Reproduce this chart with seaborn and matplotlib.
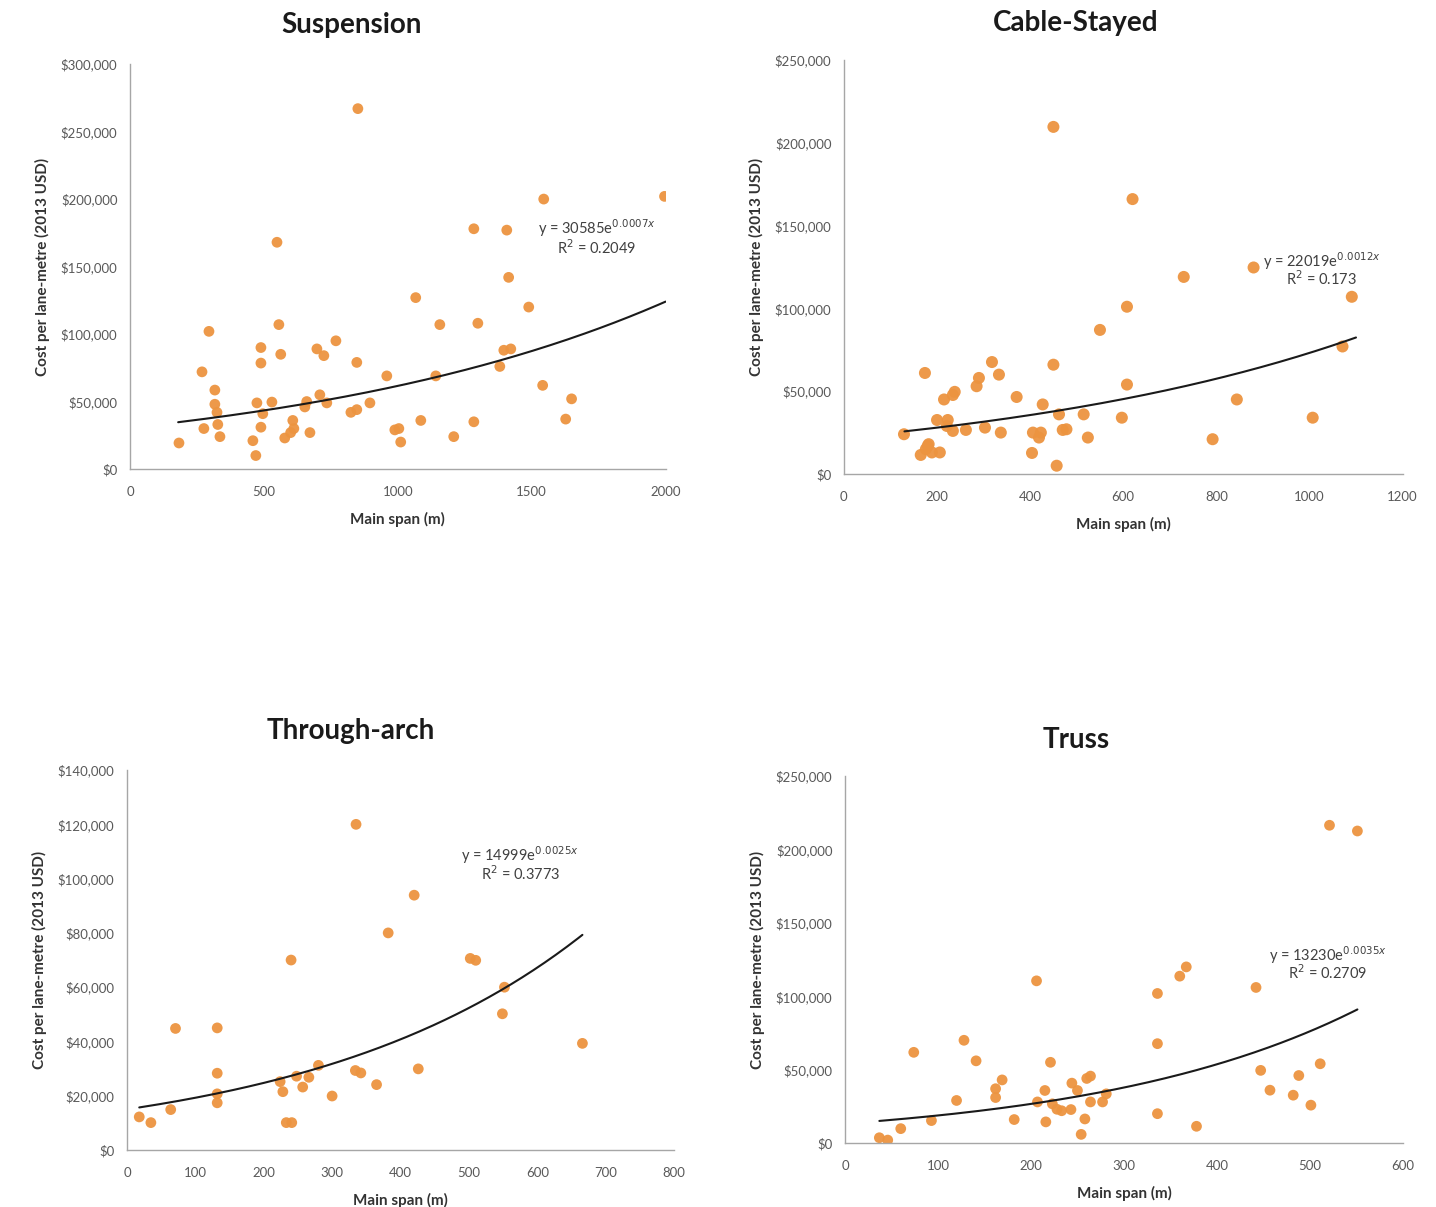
import numpy as np
import pandas as pd
import matplotlib
matplotlib.use('Agg')
import matplotlib.pyplot as plt
from matplotlib.ticker import FuncFormatter, MultipleLocator
import seaborn as sns

# Suspension bridges: main span (m) / cost per lane-metre (2013 USD)
susp_span = [183, 269, 295, 276, 317, 317, 325, 328, 336, 459, 470, 474, 489, 489, 489, 496,
             530, 549, 556, 563, 578, 600, 608, 612, 653, 660, 672, 698, 724, 709, 735, 769,
             825, 847, 847, 851, 896, 959, 989, 1011, 1004, 1067, 1086, 1157, 1142, 1209,
             1284, 1284, 1299, 1381, 1396, 1407, 1414, 1422, 1489, 1545, 1541, 1627, 1649, 1996]
susp_cost = [19300, 72000, 102000, 30000, 58500, 48000, 42000, 33000, 24000, 21000, 10000, 49000,
             90000, 78500, 31000, 41000, 49600, 168000, 107000, 85000, 23000, 27000, 36000, 30000,
             46000, 50000, 27000, 89000, 84000, 55000, 49000, 95000, 42000, 44000, 79000, 267000,
             49000, 69000, 29000, 20000, 30000, 127000, 36000, 107000, 69000, 24000, 178000,
             35000, 108000, 76000, 88000, 177000, 142000, 89000, 120000, 200000, 62000, 37000,
             52000, 202000]

# Cable-stayed bridges
cable_span = [129, 174, 165, 176, 182, 189, 180, 206, 200, 215, 223, 221, 234, 238, 234, 262,
              285, 290, 303, 318, 333, 337, 371, 406, 404, 419, 423, 427, 450, 450, 457, 462,
              470, 478, 515, 524, 550, 597, 608, 608, 620, 730, 792, 844, 880, 1007, 1071, 1091]
cable_cost = [24000, 61000, 11500, 15000, 18000, 13000, 17000, 13000, 32600, 45000, 32600, 29000,
              47700, 49600, 26000, 26600, 53000, 58000, 28000, 67600, 60000, 25000, 46500, 25000,
              12700, 22000, 25000, 42000, 209600, 66000, 5000, 36000, 26600, 27000, 36000, 22000,
              87000, 34000, 101000, 54000, 166000, 119000, 21000, 45000, 124700, 34000, 77000,
              107000]

# Through-arch bridges
arch_span = [18, 35, 64, 71, 132, 132, 132, 132, 224, 228, 233, 241, 240, 248, 257, 266, 280,
             300, 335, 334, 342, 365, 382, 420, 426, 502, 510, 549, 552, 666]
arch_cost = [12200, 10100, 14900, 44800, 45000, 28300, 20700, 17400, 25200, 21500, 10100, 10100,
             70000, 27200, 23200, 26800, 31200, 19900, 120000, 29300, 28400, 24100, 80000, 93900,
             29900, 70600, 69900, 50200, 60000, 39300]

# Truss bridges
truss_span = [37, 46, 60, 74, 93, 120, 128, 141, 162, 162, 169, 182, 206, 207, 215, 216, 221,
              223, 228, 233, 243, 244, 250, 254, 258, 260, 264, 264, 277, 281, 336, 336, 336,
              360, 367, 378, 442, 447, 457, 482, 488, 501, 511, 521, 551]
truss_cost = [3600, 2000, 9800, 61800, 15300, 29000, 70000, 56000, 37000, 31000, 43000, 16000,
              110500, 28000, 35800, 14400, 55000, 26700, 23000, 22000, 22800, 40800, 35800, 5900,
              16400, 44000, 45600, 28000, 28000, 33500, 101900, 67700, 20000, 113700, 120000,
              11400, 106000, 49500, 36000, 32600, 46000, 25800, 54000, 216500, 212600]

# exponential trendlines as printed on the chart: y = a * e^(b x)
trend_a = [30585, 22019, 14999, 13230]
trend_b = [0.0007, 0.0012, 0.0025, 0.0035]
trend_r2 = ['0.2049', '0.173', '0.3773', '0.2709']
trend_x0 = [180, 130, 18, 37]
trend_x1 = [2000, 1100, 666, 551]

titles = ['Suspension', 'Cable-Stayed', 'Through-arch', 'Truss']
spans = [susp_span, cable_span, arch_span, truss_span]
costs = [susp_cost, cable_cost, arch_cost, truss_cost]
x_max = [2000, 1200, 800, 600]
x_step = [500, 200, 100, 100]
y_max = [300000, 250000, 140000, 250000]
y_step = [50000, 50000, 20000, 50000]

sns.set_style('white')
plt.rcParams['font.family'] = ['Lato', 'DejaVu Sans']

fig = plt.figure(figsize=(14.36, 12.07), dpi=100)
boxes = [[0.0905, 0.6114, 0.373, 0.3355],
         [0.5877, 0.6073, 0.389, 0.343],
         [0.0884, 0.0472, 0.381, 0.3148],
         [0.5884, 0.0530, 0.3886, 0.304]]
title_pos = [(351, 25), (1076, 23), (351, 731), (1076, 740)]
eq_pos = [(1742, 178500, 164000), (1026, 128600, 117800),
          (575, 108700, 101700), (519, 128000, 115800)]
msize = [60, 75, 60, 60]

grey = '#a6a6a6'
for i in range(4):
    ax = fig.add_axes(boxes[i])
    df = pd.DataFrame({'span': spans[i], 'cost': costs[i]})
    sns.scatterplot(data=df, x='span', y='cost', ax=ax, color='#ec9440',
                    s=msize[i], edgecolor='none', alpha=0.95, zorder=2)
    xt = np.linspace(trend_x0[i], trend_x1[i], 200)
    tr = pd.DataFrame({'x': xt, 'y': trend_a[i] * np.exp(trend_b[i] * xt)})
    sns.lineplot(data=tr, x='x', y='y', ax=ax, color='#1a1a1a', linewidth=1.5, zorder=3)

    ax.set_xlim(0, x_max[i])
    ax.set_ylim(0, y_max[i])
    ax.xaxis.set_major_locator(MultipleLocator(x_step[i]))
    ax.yaxis.set_major_locator(MultipleLocator(y_step[i]))
    ax.yaxis.set_major_formatter(FuncFormatter(lambda v, p: '${:,.0f}'.format(v)))
    for s in ['top', 'right']:
        ax.spines[s].set_visible(False)
    for s in ['left', 'bottom']:
        ax.spines[s].set_color(grey)
        ax.spines[s].set_linewidth(1.0)
    ax.tick_params(axis='both', length=3, width=1, color=grey, labelsize=9.5,
                   labelcolor='#595959', direction='out')
    ax.tick_params(axis='y', pad=6)
    ax.tick_params(axis='x', pad=9)
    ax.set_xlabel('Main span (m)', fontsize=11, fontweight='bold', color='#333333', labelpad=10)
    ax.set_ylabel('Cost per lane-metre (2013 USD)', fontsize=11, fontweight='bold',
                  color='#333333', labelpad=8)

    ex, ey1, ey2 = eq_pos[i]
    ax.text(ex, ey1, 'y = %de$^{%sx}$' % (trend_a[i], trend_b[i]), ha='center', va='center',
            fontsize=10.5, color='#404040')
    ax.text(ex, ey2, 'R$^2$ = %s' % trend_r2[i], ha='center', va='center',
            fontsize=10.5, color='#404040')

    tx, ty = title_pos[i]
    fig.text(tx / 1436, 1 - ty / 1207, titles[i], ha='center', va='center',
             fontsize=20, fontweight='bold', color='#1a1a1a')

fig.savefig('out.png', dpi=100)
